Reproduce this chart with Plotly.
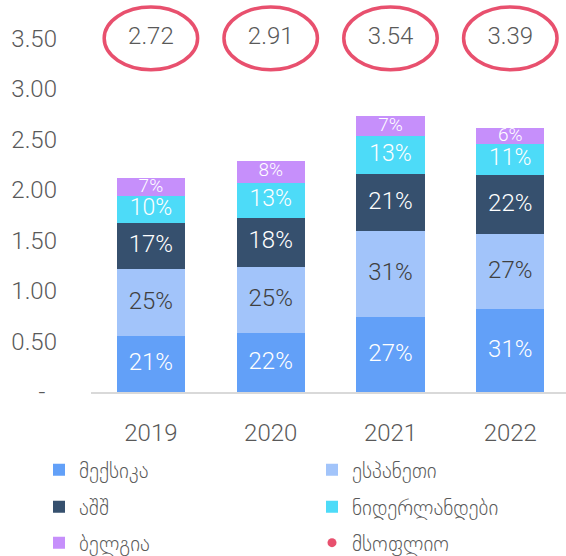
import plotly.graph_objects as go

years = ["2019", "2020", "2021", "2022"]
world = [2.72, 2.91, 3.54, 3.39]

mexico = [0.55, 0.58, 0.74, 0.82]
spain = [0.67, 0.66, 0.85, 0.74]
usa = [0.45, 0.48, 0.57, 0.59]
netherlands = [0.27, 0.35, 0.37, 0.30]
belgium = [0.18, 0.22, 0.20, 0.16]

mexico_pct = ["21%", "22%", "27%", "31%"]
spain_pct = ["25%", "25%", "31%", "27%"]
usa_pct = ["17%", "18%", "21%", "22%"]
netherlands_pct = ["10%", "13%", "13%", "11%"]
belgium_pct = ["7%", "8%", "7%", "6%"]

y_tickvals = [0, 0.5, 1.0, 1.5, 2.0, 2.5, 3.0, 3.5]
y_ticktext = ["-\u00a0\u00a0", "0.50", "1.00", "1.50", "2.00", "2.50", "3.00", "3.50"]

# name, values, labels, colour, label colour, label size
series = [
    ("მექსიკა", mexico, mexico_pct, "#62A0F8", "white", 24),
    ("ესპანეთი", spain, spain_pct, "#A2C4FA", "#404040", 24),
    ("აშშ", usa, usa_pct, "#36506E", "white", 24),
    ("ნიდერლანდები", netherlands, netherlands_pct, "#4DDBF8", "white", 23),
    ("ბელგია", belgium, belgium_pct, "#C68FFB", "white", 19),
]

FONT = "Roboto Light, Roboto, DejaVu Sans, sans-serif"
GRAY = "#595959"
PINK = "#E8506E"

W, H = 566, 556
# legend slot per entry: (column x px, row centre y px)
col_x = [39, 312]
row_y = [470, 507, 543]
legend_ids = ["legend", "legend2", "legend3", "legend4", "legend5", "legend6"]

fig = go.Figure()
base = [0.0] * len(years)
for k, (name, vals, pct, color, tcolor, tsize) in enumerate(series):
    fig.add_trace(go.Bar(
        x=years, y=vals, name=name, legend=legend_ids[k],
        marker=dict(color=color, line=dict(width=0)),
        width=0.57, hoverinfo="y+name",
    ))
    mids = [b + v / 2 for b, v in zip(base, vals)]
    fig.add_trace(go.Scatter(
        x=years, y=mids, mode="text", text=pct,
        textfont=dict(color=tcolor, size=tsize, family=FONT, weight=300),
        showlegend=False, cliponaxis=False, hoverinfo="skip",
    ))
    base = [b + v for b, v in zip(base, vals)]

label_y = 3.5
fig.add_trace(go.Scatter(
    x=years, y=[label_y] * len(years), mode="text",
    text=[f"{v:.2f}" for v in world],
    textfont=dict(size=24, color=GRAY, family=FONT, weight=300),
    showlegend=False, cliponaxis=False, hoverinfo="skip",
))
fig.add_trace(go.Scatter(
    x=[None], y=[None], mode="markers", name="მსოფლიო", legend=legend_ids[5],
    marker=dict(color=PINK, size=9),
))

for i, _ in enumerate(world):
    fig.add_shape(type="circle", xref="x", yref="y",
                  x0=i - 0.39, x1=i + 0.39, y0=label_y - 0.31, y1=label_y + 0.31,
                  line=dict(color=PINK, width=3.5), layer="above")

leg_common = dict(
    orientation="h", xref="container", yref="container",
    xanchor="left", yanchor="middle", traceorder="normal",
    font=dict(size=21, color=GRAY, family="DejaVu Sans"),
    bgcolor="rgba(0,0,0,0)",
)
legends = {}
for k, lid in enumerate(legend_ids):
    legends[lid] = dict(leg_common, x=col_x[k % 2] / W, y=1 - row_y[k // 2] / H)

fig.update_layout(
    width=W, height=H,
    margin=dict(l=91, r=0, t=2, b=164),
    barmode="stack",
    plot_bgcolor="white", paper_bgcolor="white",
    font=dict(family=FONT, color=GRAY, weight=300),
    showlegend=True,
    xaxis=dict(
        range=[-0.5, 3.465], showline=True, linecolor="#D9D9D9", linewidth=2,
        ticks="", tickfont=dict(size=24, color=GRAY, family=FONT, weight=300),
        ticklabelstandoff=18, showgrid=False, zeroline=False, automargin=False,
    ),
    yaxis=dict(
        range=[0, 3.86], tickvals=y_tickvals, ticktext=y_ticktext,
        showgrid=False, zeroline=False, showline=False, ticks="",
        tickfont=dict(size=24, color=GRAY, family=FONT, weight=300),
        ticklabelstandoff=33, automargin=False,
    ),
    **legends,
)

fig.write_html("out.html", config={"displayModeBar": False},
               post_script="document.body.style.margin='0';")
